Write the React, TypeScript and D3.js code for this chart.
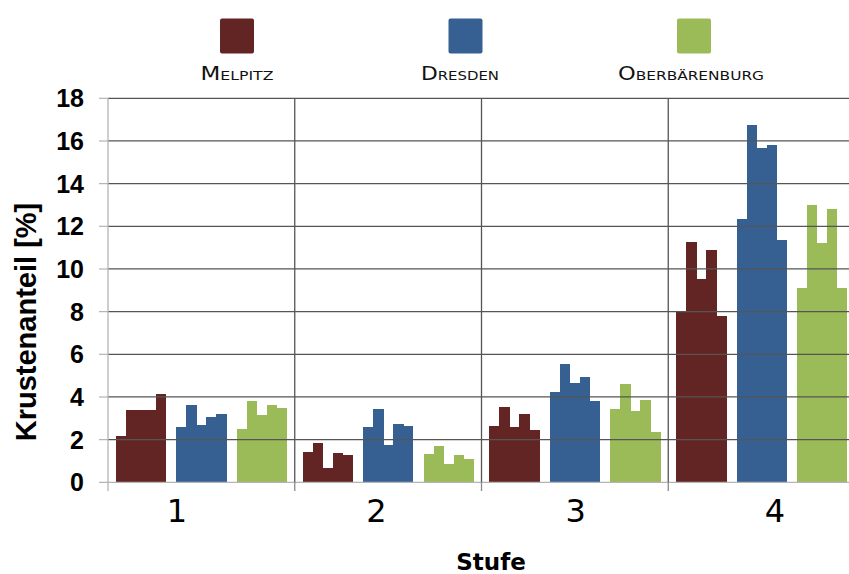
import React from "react";
import * as d3 from "d3";

const categories = ["1", "2", "3", "4"];
const seriesNames = ["Melpitz", "Dresden", "Oberbärenburg"];
const seriesColors = ["#632523", "#376092", "#9bbb59"];
const melpitz = [
  [2.19, 3.37, 3.41, 3.41, 4.13],
  [1.41, 1.84, 0.69, 1.37, 1.26],
  [2.62, 3.55, 2.59, 3.21, 2.43],
  [8.04, 11.27, 9.55, 10.87, 7.79],
];
const dresden = [
  [2.59, 3.63, 2.68, 3.06, 3.21],
  [2.59, 3.45, 1.74, 2.73, 2.62],
  [4.21, 5.56, 4.66, 4.93, 3.83],
  [12.34, 16.73, 15.67, 15.82, 11.34],
];
const oberbaerenburg = [
  [2.48, 3.79, 3.16, 3.62, 3.48],
  [1.32, 1.68, 0.85, 1.26, 1.09],
  [3.43, 4.62, 3.34, 3.87, 2.38],
  [9.09, 13.0, 11.2, 12.81, 9.09],
];
const yTicks = [0, 2, 4, 6, 8, 10, 12, 14, 16, 18];
const yTitle = "Krustenanteil [%]";
const xTitle = "Stufe";

const W = 849;
const H = 574;
const plotLeft = 108;
const plotRight = 855;
const plotTop = 98.3;
const plotBottom = 482.3;

export default function App() {
  const allSeries = [melpitz, dresden, oberbaerenburg];
  const y = d3.scaleLinear().domain([0, 18]).range([plotBottom, plotTop]);
  const xGroup = d3.scaleBand<string>().domain(categories).range([plotLeft, plotRight]).padding(0);
  const xSeries = d3
    .scaleBand<string>()
    .domain(seriesNames)
    .range([0, xGroup.bandwidth()])
    .paddingInner(0.1736)
    .paddingOuter(0.132);
  const subIdx = d3.range(5).map(String);
  const xSub = d3.scaleBand<string>().domain(subIdx).range([0, xSeries.bandwidth()]).padding(0);
  const xLabel = d3.scalePoint<string>().domain(categories).range([177, 775]);
  const legendX = d3.scalePoint<string>().domain(seriesNames).range([237, 694]);
  const legendTextX = [237, 460, 691];
  const legendTextLen = [73, 78, 146];

  const gridColor = "#555555";
  const axisColor = "#b4b4b4";

  return (
    <svg width={W} height={H} style={{ position: "absolute", left: 0, top: 0, background: "#fff" }}>
      {/* bars */}
      <g shapeRendering="crispEdges">
        {categories.map((c, ci) =>
          seriesNames.map((s, si) =>
            allSeries[si][ci].map((v, k) => (
              <rect
                key={`${c}-${s}-${k}`}
                x={(xGroup(c) as number) + (xSeries(s) as number) + (xSub(String(k)) as number)}
                y={y(v)}
                width={xSub.bandwidth() + 0.4}
                height={y(0) - y(v)}
                fill={seriesColors[si]}
              />
            ))
          )
        )}
      </g>
      {/* horizontal gridlines */}
      {yTicks.filter((t) => t > 0).map((t) => (
        <g key={t}>
          <line x1={99} x2={plotLeft} y1={y(t)} y2={y(t)} stroke={axisColor} strokeWidth={1.2} />
          <line x1={plotLeft} x2={plotRight} y1={y(t)} y2={y(t)} stroke={gridColor} strokeWidth={1.3} />
        </g>
      ))}
      {/* bottom axis */}
      <line x1={99} x2={plotRight} y1={y(0)} y2={y(0)} stroke={axisColor} strokeWidth={1.3} />
      {/* left axis */}
      <line x1={plotLeft} x2={plotLeft} y1={plotTop} y2={491} stroke={axisColor} strokeWidth={1.3} />
      {/* vertical group separators */}
      {categories.slice(1).map((c) => (
        <g key={c}>
          <line x1={xGroup(c)} x2={xGroup(c)} y1={plotTop} y2={y(0)} stroke={gridColor} strokeWidth={1.3} />
          <line x1={xGroup(c)} x2={xGroup(c)} y1={y(0)} y2={491} stroke="#8a8a8a" strokeWidth={1.3} />
        </g>
      ))}
      {/* y tick labels */}
      {yTicks.map((t) => (
        <text
          key={t}
          x={84}
          y={y(t)}
          textAnchor="end"
          dominantBaseline="central"
          fontFamily="Liberation Sans, Arial, sans-serif"
          fontWeight="bold"
          fontSize={25}
          fill="#000"
        >
          {t}
        </text>
      ))}
      {/* y title */}
      <text
        transform={`translate(26,322) rotate(-90)`}
        textAnchor="middle"
        dominantBaseline="central"
        fontFamily="Liberation Sans, Arial, sans-serif"
        fontWeight="bold"
        fontSize={29}
        fill="#000"
      >
        {yTitle}
      </text>
      {/* x labels */}
      {categories.map((c) => (
        <text
          key={c}
          x={xLabel(c)}
          y={522}
          textAnchor="middle"
          fontFamily="DejaVu Sans, sans-serif"
          fontSize={32}
          fill="#000"
        >
          {c}
        </text>
      ))}
      {/* x title */}
      <text
        x={491}
        y={570}
        textAnchor="middle"
        fontFamily="DejaVu Sans, Verdana, sans-serif"
        fontWeight="bold"
        fontSize={23}
        fill="#000"
      >
        {xTitle}
      </text>
      {/* legend */}
      {seriesNames.map((s, i) => (
        <g key={s}>
          <rect
            x={(legendX(s) as number) - 17}
            y={18.5}
            width={34}
            height={35}
            rx={2}
            fill={seriesColors[i]}
          />
          <text
            x={legendTextX[i]}
            y={80}
            textAnchor="middle"
            fontFamily="Liberation Sans Narrow, DejaVu Sans Condensed, sans-serif"
            fontSize={19}
            fontVariant="small-caps"
            textLength={legendTextLen[i]}
            lengthAdjust="spacingAndGlyphs"
            fill="#111"
            style={{ fontVariant: "small-caps" }}
          >
            {s}
          </text>
        </g>
      ))}
    </svg>
  );
}
